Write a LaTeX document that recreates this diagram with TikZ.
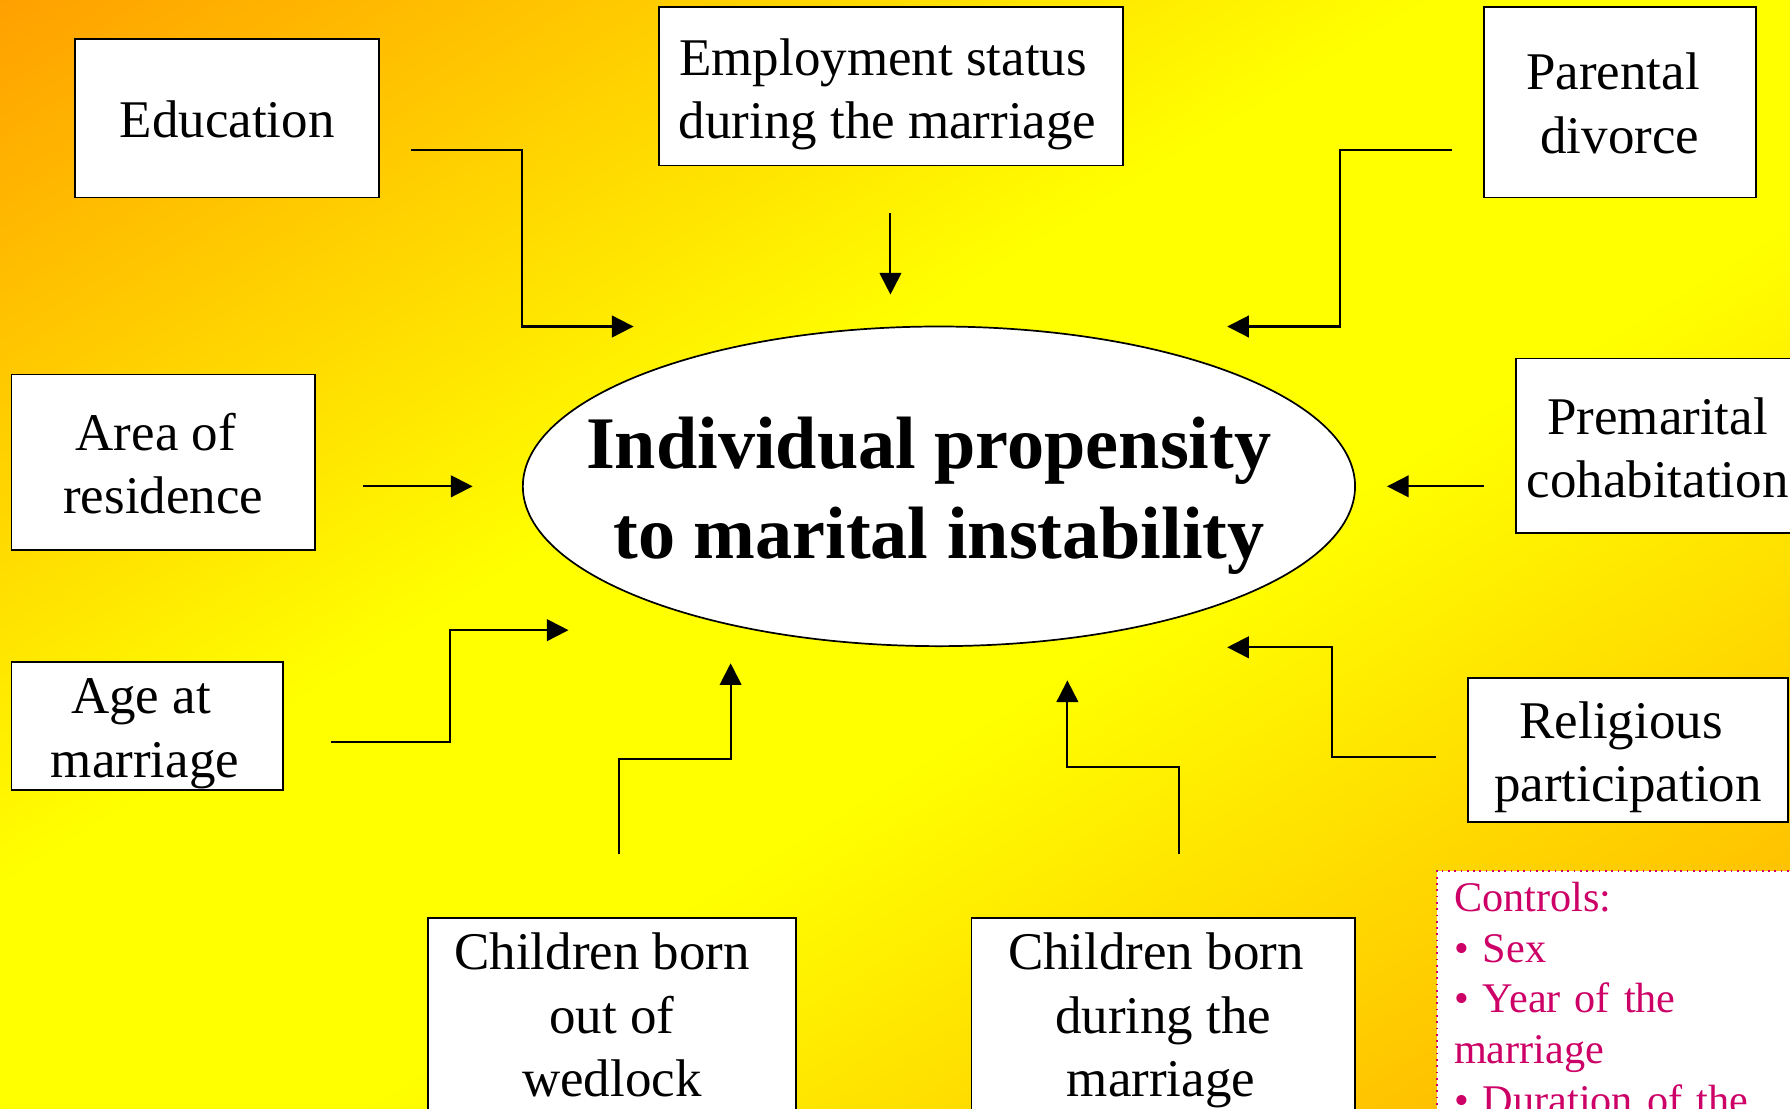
\documentclass[tikz,border=0pt]{standalone}
\usepackage{fontspec}
\setmainfont{Liberation Serif}
\usetikzlibrary{arrows.meta,calc,shapes.geometric}

\definecolor{deeporange}{RGB}{255,160,0}
\definecolor{lightorange}{RGB}{255,172,0}
\definecolor{brightyellow}{RGB}{255,255,0}
\definecolor{ctrlpink}{RGB}{204,0,102}

% background ramp: orange - yellow band - orange
% (TikZ stretches the central 25bp..75bp part of a shading over the path)
\pgfdeclarehorizontalshading{bggrad}{100bp}{color(0bp)=(deeporange); color(25bp)=(deeporange); color(45bp)=(brightyellow); color(55bp)=(brightyellow); color(75bp)=(lightorange); color(100bp)=(lightorange)}

% first-line strut and trailing gap, used to place text inside boxes
\newcommand{\lift}[1]{\rule{0pt}{#1}}
\newcommand{\trail}[1]{\hspace*{#1}}

\begin{document}
\begin{tikzpicture}[x=0.5pt,y=-0.5pt,
  factor/.style={draw=black, line width=0.75pt, fill=white, align=center,
    inner sep=0pt, font=\fontsize{23.2}{27.8}\selectfont},
  conn/.style={line width=0.9pt, -{Triangle[length=9.5pt,width=9.5pt]}},
]
\useasboundingbox (0,0) rectangle (1568,971);
\clip (0,0) rectangle (1568,971);

% background: gradient running from the top-left to the bottom-right corner
\begin{scope}[transform canvas={cm={7.84,-4.855,7.84,4.855,(0pt,0pt)}}]
  \shade[shading=bggrad] (0pt,-50pt) rectangle (100pt,50pt);
\end{scope}

% central outcome
\node[ellipse, draw=black, fill=white, line width=0.75pt, minimum width=364.5pt,
  minimum height=140pt, inner xsep=-40pt, inner ysep=0pt, align=center,
  font=\fontsize{32.5}{39}\selectfont\bfseries] (prop) at (822.5,426)
  {\lift{30.8pt}Individual propensity\trail{9pt}\\to marital instability};

% explanatory factors
\node[factor, minimum width=133pt, minimum height=69.5pt] (edu) at (199,103.5)
  {\lift{17.4pt}Education};
\node[factor, minimum width=203.5pt, minimum height=69.5pt] (emp) at (780.5,75.5)
  {\lift{23pt}Employment status\trail{7pt}\\during the marriage\trail{3pt}};
\node[factor, minimum width=119pt, minimum height=83.5pt] (par) at (1419,89.5)
  {\lift{17pt}Parental\trail{6pt}\\divorce};
\node[factor, minimum width=133pt, minimum height=77pt] (area) at (143,405)
  {\lift{17.5pt}Area of\trail{6.5pt}\\residence};
\node[factor, minimum width=124pt, minimum height=76.5pt] (prem) at (1452,390.5)
  {\lift{17.8pt}Premarital\\cohabitation};
\node[factor, minimum width=119pt, minimum height=56pt] (age) at (129,636)
  {\lift{22.2pt}Age at\trail{5.5pt}\\marriage\trail{2pt}};
\node[factor, minimum width=140pt, minimum height=63pt] (rel) at (1426,657)
  {\lift{22.6pt}Religious\trail{6pt}\\participation};
\node[factor, minimum width=161pt, minimum height=85pt] (cow) at (536,889)
  {Children born\trail{8.5pt}\\out of\trail{8.5pt}\\wedlock};
\node[factor, minimum width=168pt, minimum height=90pt] (cdm) at (1019,894)
  {Children born\trail{6.5pt}\\during the\trail{6.5pt}\\marriage\trail{2pt}};

% control variables
\node[anchor=north west, draw=ctrlpink, dotted, line width=0.75pt, fill=white,
  text=ctrlpink, align=left, text width=200pt, inner xsep=7.5pt, inner ysep=5pt,
  font=\fontsize{18.5}{22.2}\selectfont] (ctrl) at (1258,762)
  {Controls:\\• Sex\\• Year of the\\marriage\\• Duration of the};

% connector end points
\coordinate (eduS) at (360,131);   \coordinate (eduE) at (555,286);
\coordinate (empS) at (780,187);   \coordinate (empE) at (780,258);
\coordinate (parS) at (1272,131);  \coordinate (parE) at (1075,286);
\coordinate (areaS) at (318,426);  \coordinate (areaE) at (414,426);
\coordinate (premS) at (1300,426); \coordinate (premE) at (1215,426);
\coordinate (ageS) at (290,650);   \coordinate (ageE) at (498,552);
\coordinate (relS) at (1258,663);  \coordinate (relE) at (1075,567);
\coordinate (cowS) at (542,748);   \coordinate (cowE) at (640,581);
\coordinate (cdmS) at (1033,748);  \coordinate (cdmE) at (935,596);

% connectors
\draw[conn] (eduS) -| ($(eduS)!.5!(eduE)$) |- (eduE);
\draw[conn] (empS) -- (empE);
\draw[conn] (parS) -| ($(parS)!.5!(parE)$) |- (parE);
\draw[conn] (areaS) -- (areaE);
\draw[conn] (premS) -- (premE);
\draw[conn] (ageS) -| ($(ageS)!.5!(ageE)$) |- (ageE);
\draw[conn] (relS) -| ($(relS)!.5!(relE)$) |- (relE);
\draw[conn] (cowS) |- ($(cowS)!.5!(cowE)$) -| (cowE);
\draw[conn] (cdmS) |- ($(cdmS)!.5!(cdmE)$) -| (cdmE);
\end{tikzpicture}
\end{document}
